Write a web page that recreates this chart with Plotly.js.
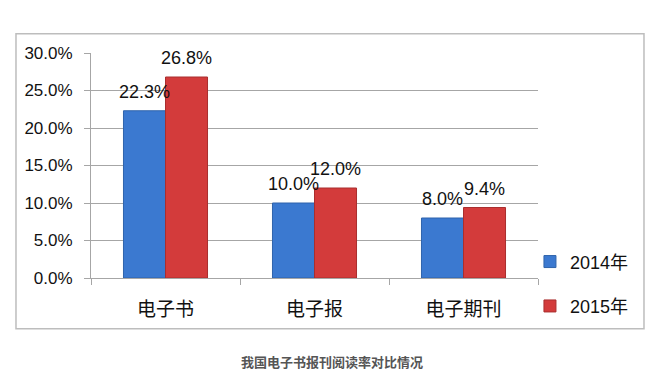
<!DOCTYPE html>
<html>
<head>
<meta charset="utf-8">
<script src="https://cdn.plot.ly/plotly-3.0.1.min.js"></script>
<style>html,body{margin:0;padding:0;background:#fff;}#chart{width:661px;height:380px;}</style>
</head>
<body>
<div id="chart"></div>
<script>
var categories = ['电子书', '电子报', '电子期刊'];
var series2014 = [22.3, 10.0, 8.0];
var series2015 = [26.8, 12.0, 9.4];
var seriesNames = ['2014年', '2015年'];
var yTickVals = [0, 5, 10, 15, 20, 25, 30];
var caption = '我国电子书报刊阅读率对比情况';

var latin = 'Liberation Sans, Arial, Noto Sans CJK SC, sans-serif';
var cjk = 'Noto Sans CJK SC, sans-serif';

var traces = [
  {type: 'bar', name: seriesNames[0], x: categories, y: series2014, legendgroup: 'a',
   marker: {color: '#3b79d0', line: {color: '#2f63ab', width: 1}}, hoverinfo: 'none'},
  {type: 'bar', name: seriesNames[1], x: categories, y: series2015, legendgroup: 'b',
   marker: {color: '#d33b3b', line: {color: '#a92e2e', width: 1}}, hoverinfo: 'none'}
];

var annotations = [];
[series2014, series2015].forEach(function (s, si) {
  s.forEach(function (v, i) {
    annotations.push({
      xref: 'x', yref: 'y', x: categories[i], y: v,
      xshift: si === 0 ? -21 : 21, yshift: 7,
      yanchor: 'bottom', xanchor: 'center', showarrow: false,
      text: v.toFixed(1) + '%',
      font: {family: latin, size: 18, color: '#111'}
    });
  });
});
annotations.push({
  xref: 'paper', yref: 'paper', x: 0.539, y: -0.372, xanchor: 'center', yanchor: 'middle',
  showarrow: false, text: '<b>' + caption + '</b>',
  font: {family: cjk, size: 13, color: '#555'}
});

var layout = {
  width: 661, height: 380,
  margin: {l: 91, r: 123, t: 53.3, b: 101.7},
  paper_bgcolor: '#fff', plot_bgcolor: '#fff',
  bargap: 0.436, bargroupgap: 0, barmode: 'group',
  showlegend: true,
  legend: {x: 0.982, xanchor: 'left', y: -0.026, yanchor: 'middle', tracegroupgap: 18,
           font: {family: latin, size: 18, color: '#111'}, bgcolor: 'rgba(0,0,0,0)'},
  xaxis: {
    type: 'category', showgrid: false, zeroline: false,
    showline: true, linecolor: '#a6a6a6', linewidth: 1,
    ticks: 'outside', tickson: 'boundaries', ticklen: 6, tickcolor: '#a6a6a6',
    tickfont: {family: cjk, size: 19, color: '#111'}, ticklabelstandoff: 14
  },
  yaxis: {
    range: [0, 30], tickvals: yTickVals,
    ticktext: yTickVals.map(function (v) { return v.toFixed(1) + '%'; }),
    showgrid: true, gridcolor: '#a6a6a6', gridwidth: 1, zeroline: false,
    showline: true, linecolor: '#a6a6a6', linewidth: 1,
    ticks: 'outside', ticklen: 6, tickcolor: '#a6a6a6',
    tickfont: {family: latin, size: 17, color: '#111'}, ticklabelstandoff: 8
  },
  shapes: [{
    type: 'rect', xref: 'paper', yref: 'paper',
    x0: -0.1678, x1: 1.2371, y0: -0.2253, y1: 1.0858,
    line: {color: '#bdbdbd', width: 1.5}, fillcolor: 'rgba(0,0,0,0)', layer: 'below'
  }],
  annotations: annotations
};

Plotly.newPlot('chart', traces, layout, {displayModeBar: false, staticPlot: true});
</script>
</body>
</html>
